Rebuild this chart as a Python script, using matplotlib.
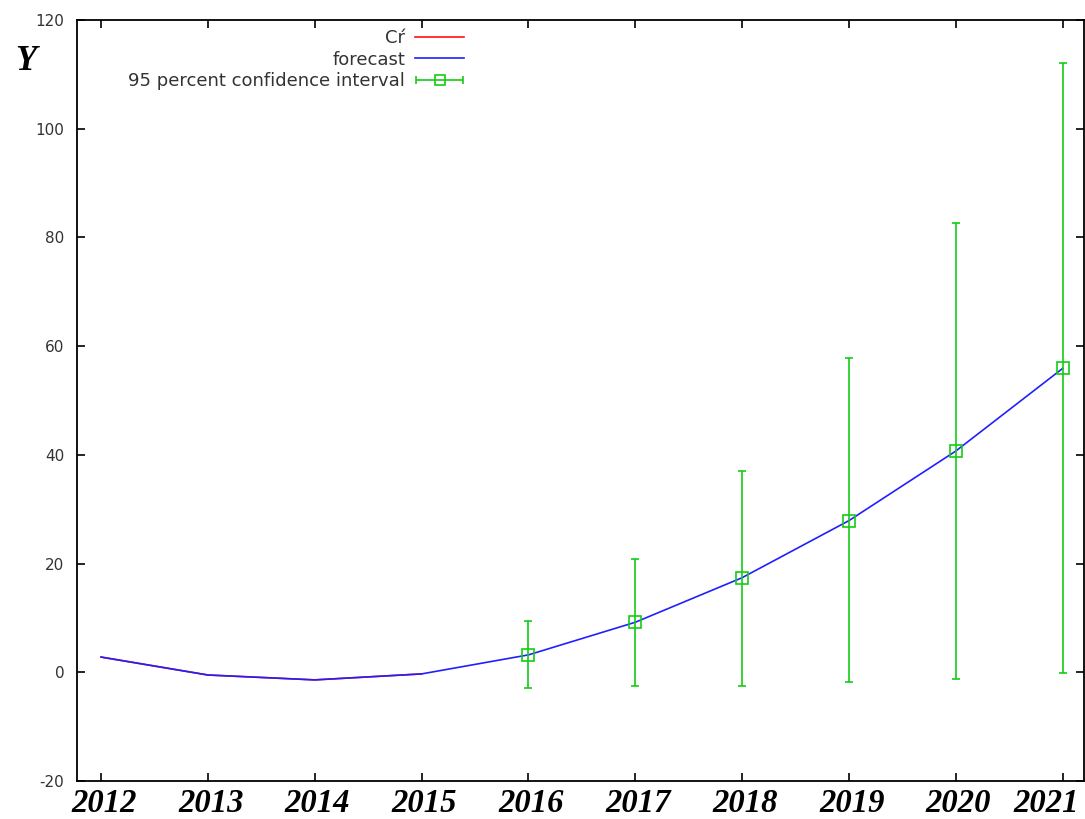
import numpy as np
import matplotlib

matplotlib.use("Agg")
import matplotlib.pyplot as plt
from matplotlib.legend_handler import HandlerErrorbar

# data
years_actual = [2012, 2013, 2014, 2015]
actual = [2.8, -0.5, -1.4, -0.3]

years_fc = [2012, 2013, 2014, 2015, 2016, 2017, 2018, 2019, 2020, 2021]
forecast = [2.8, -0.5, -1.4, -0.3, 3.2, 9.2, 17.4, 27.9, 40.7, 55.9]

years_ci = [2016, 2017, 2018, 2019, 2020, 2021]
ci_mid = [3.2, 9.2, 17.4, 27.9, 40.7, 55.9]
ci_low = [-2.9, -2.6, -2.5, -1.8, -1.2, -0.1]
ci_high = [9.4, 20.9, 37.1, 57.8, 82.6, 112.0]

yticks = [-20, 0, 20, 40, 60, 80, 100, 120]

GREEN = "#14cc14"
BLUE = "#2020ff"
RED = "#ff1010"

plt.rcParams["axes.unicode_minus"] = False

fig = plt.figure(figsize=(10.85, 8.19), dpi=100)
ax = fig.add_axes([77 / 1085, 1 - 781 / 819, 1007 / 1085, 761 / 819])

ax.plot(years_actual, actual, color=RED, lw=1.2, label="Cŕ", zorder=3)
ax.plot(years_fc, forecast, color=BLUE, lw=1.2, label="forecast", zorder=4)

mid = np.array(ci_mid)
yerr = [mid - np.array(ci_low), np.array(ci_high) - mid]
ax.errorbar(years_ci, ci_mid, yerr=yerr, fmt="s", mfc="none", mec=GREEN,
            ms=8, mew=1.2, ecolor=GREEN, elinewidth=1.2, capsize=3,
            capthick=1.2, zorder=5)

# dummy horizontal error bar only for the legend key (gnuplot style)
eb_leg = ax.errorbar([np.nan], [np.nan], xerr=[1], fmt="s", mfc="none",
                     mec=GREEN, ms=7, mew=1.2, ecolor=GREEN, elinewidth=1.2,
                     capsize=3, capthick=1.2,
                     label="95 percent confidence interval")

ax.set_xlim(2011.775, 2021.2)
ax.set_ylim(-20, 120)
ax.set_xticks(years_fc)
ax.set_xticklabels([])
ax.set_yticks(yticks)

ax.tick_params(direction="in", top=True, right=True, length=6, width=1.2)
ax.tick_params(axis="y", labelsize=11, labelcolor="#333333", pad=9)
for sp in ax.spines.values():
    sp.set_linewidth(1.3)

# x labels drawn by hand so the last one can be nudged inside the canvas
for i, yr in enumerate(years_fc):
    dx = -12 if i == len(years_fc) - 1 else 2
    ax.annotate(str(yr), (yr, 0), xycoords=ax.get_xaxis_transform(),
                xytext=(dx, -5), textcoords="offset points", ha="center",
                va="top", family="Liberation Serif", style="italic",
                weight="bold", fontsize=23.5)

fig.text(26 / 1085, 1 - 61 / 819, "Y", family="Liberation Serif",
         style="italic", weight="bold", fontsize=25, ha="center", va="center")

handles, labels = ax.get_legend_handles_labels()
ax.legend(handles, labels, loc="upper right",
          bbox_to_anchor=(464 / 1085, 1 - 29 / 819), bbox_transform=fig.transFigure,
          frameon=False, markerfirst=False, fontsize=13, handlelength=2.7,
          labelspacing=0.2, handletextpad=0.55, labelcolor="#333333",
          borderpad=0, borderaxespad=0,
          handler_map={type(eb_leg): HandlerErrorbar(xerr_size=1.3, numpoints=1)})

fig.savefig("out.png", dpi=100)
